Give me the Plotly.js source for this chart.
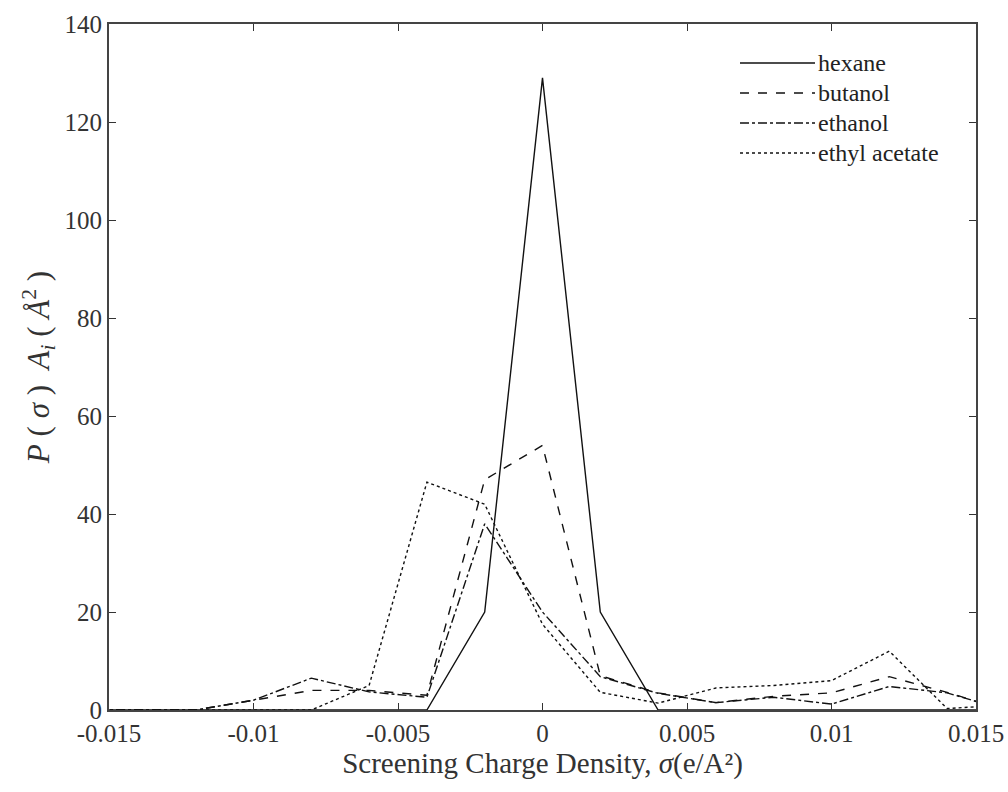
<!DOCTYPE html>
<html>
<head>
<meta charset="utf-8">
<script src="https://cdn.plot.ly/plotly-3.0.1.min.js"></script>
<style>body{margin:0;background:#fff}#chart{width:1008px;height:792px}</style>
</head>
<body>
<div id="chart"></div>
<script>
const sigma = [-0.016,-0.014,-0.012,-0.010,-0.008,-0.006,-0.004,-0.002,0,0.002,0.004,0.006,0.008,0.010,0.012,0.014,0.016];
const hexane       = [0,0,0,0,0,0,0,20,129,20,0,0,0,0,0,0,0];
const butanol      = [0,0,0,2,4,4,3,47,54,7,3.5,1.5,2.8,3.5,6.8,3.6,0];
const ethanol      = [0,0,0,2,6.5,3.7,2.6,38,20,6.8,3.4,1.5,2.6,1.2,4.8,3.5,0];
const ethylAcetate = [0,0,0,0,0,5,46.5,42,17.5,3.6,1.4,4.5,5,6,12,0.3,1];
const seriesNames = ["hexane","butanol","ethanol","ethyl acetate"];
const xTickVals = [-0.015,-0.01,-0.005,0,0.005,0.01,0.015];
const xTickText = ["-0.015","-0.01","-0.005","0","0.005","0.01","0.015"];
const yTickVals = [0,20,40,60,80,100,120,140];

const dashes = ["solid","dash","dashdot","dot"];
const series = [hexane,butanol,ethanol,ethylAcetate];
const traces = series.map((s,i)=>({
  x: sigma, y: s, type:"scatter", mode:"lines", name: seriesNames[i], showlegend:false,
  line:{color:"#111", width:1.4, dash:dashes[i]}
}));

const serif = "Liberation Serif, Times New Roman, serif";
// plot area in px: left 109, right 976, top 24, bottom 710
const L=109, W=867, B=710, H=686;
const px2x = p => (p-L)/W, px2y = p => (B-p)/H;
const legendRows = [63,93,123,153];
const shapes = [], annotations = [];
seriesNames.forEach((n,i)=>{
  shapes.push({type:"line", xref:"paper", yref:"paper",
    x0:px2x(740), x1:px2x(815), y0:px2y(legendRows[i]), y1:px2y(legendRows[i]),
    line:{color:"#111", width:1.4, dash:dashes[i]}});
  annotations.push({xref:"paper", yref:"paper", x:px2x(816), y:px2y(legendRows[i]),
    xanchor:"left", yanchor:"middle", showarrow:false, text:n,
    font:{family:serif, size:24, color:"#222"}});
});

const layout = {
  width:1008, height:792,
  margin:{l:L, r:1008-L-W, t:24, b:792-B},
  paper_bgcolor:"#fff", plot_bgcolor:"#fff",
  showlegend:false, shapes, annotations,
  xaxis:{range:[-0.015,0.015], tickvals:xTickVals, ticktext:xTickText,
         ticks:"inside", ticklen:7, tickcolor:"#333", showgrid:false, zeroline:false,
         showline:true, mirror:"ticks", linecolor:"#444", linewidth:2, ticklabelstandoff:0,
         tickfont:{family:serif, size:25, color:"#333"},
         title:{text:"Screening Charge Density, <i>σ</i>(e/A²)", font:{family:serif, size:29, color:"#333"}, standoff:4}},
  yaxis:{range:[0,140], tickvals:yTickVals, ticks:"inside", ticklen:7, tickcolor:"#333",
         showgrid:false, zeroline:false, showline:true, mirror:"ticks", linecolor:"#444", linewidth:2,
         tickfont:{family:serif, size:25, color:"#333"},
         title:{text:"<i>P</i> ( <i>σ</i> )  <i>A<sub>i</sub></i> ( <i>Å</i><sup>2</sup> )", font:{family:serif, size:31, color:"#333"}, standoff:6}}
};
Plotly.newPlot("chart", traces, layout, {displayModeBar:false, staticPlot:true});
</script>
</body>
</html>
